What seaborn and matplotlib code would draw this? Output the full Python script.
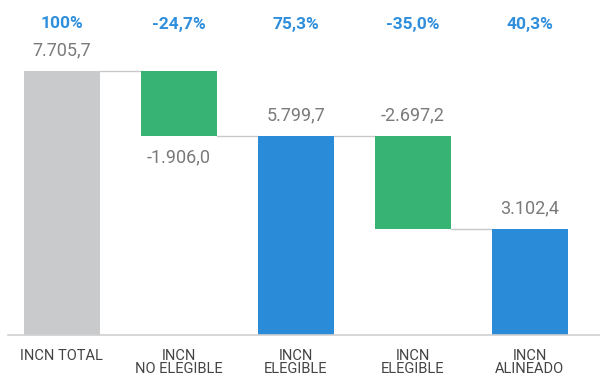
import matplotlib
matplotlib.use("Agg")
import matplotlib.pyplot as plt
import matplotlib.transforms as mtransforms
import seaborn as sns
import pandas as pd

# Waterfall steps
step_keys = ["total", "no_elegible", "elegible", "elegible_2", "alineado"]
step_labels = ["INCN TOTAL", "INCN\nNO ELEGIBLE", "INCN\nELEGIBLE", "INCN\nELEGIBLE", "INCN\nALINEADO"]
step_values = [7705.7, -1906.0, 5799.7, -2697.2, 3102.4]
step_kinds = ["total", "delta", "total", "delta", "total"]
pct_labels = ["100%", "-24,7%", "75,3%", "-35,0%", "40,3%"]
value_side = ["above", "below", "above", "above", "above"]

colors = {"total0": "#c9cacc", "delta": "#37b473", "total": "#2a8bd8"}
bar_colors = [colors["total0"], colors["delta"], colors["total"], colors["delta"], colors["total"]]

# Compute bar bottoms / heights for the waterfall
bottoms, heights, levels = [], [], []
level = 0.0
for v, k in zip(step_values, step_kinds):
    if k == "total":
        bottoms.append(0.0)
        heights.append(v)
        level = v
    else:
        new_level = level + v
        bottoms.append(min(level, new_level))
        heights.append(abs(v))
        level = new_level
    levels.append(level)

df = pd.DataFrame({"step": step_keys, "height": heights})

sns.set_theme(style="white")
plt.rcParams["font.family"] = ["Roboto", "DejaVu Sans"]

fig = plt.figure(figsize=(6.0, 3.77), dpi=100)
ax = fig.add_axes([8 / 600, 42 / 377, 592 / 600, 335 / 377])

bar_w = 0.65
sns.barplot(data=df, x="step", y="height", order=step_keys, bottom=bottoms,
            width=bar_w, errorbar=None, color=bar_colors[0], ax=ax,
            linewidth=0, zorder=2)
for patch, c in zip(ax.patches, bar_colors):
    patch.set_facecolor(c)
    patch.set_edgecolor("none")

ax.set_xlim(-0.46, 4.6)
ax.set_ylim(0, 9780)

# Connector lines between consecutive bars
for i in range(len(step_values) - 1):
    y = levels[i]
    ax.plot([i + bar_w / 2, i + 1 - bar_w / 2], [y, y], color="#c8c8c8", lw=1.0, zorder=1)

# Value labels
def fmt_es(v):
    s = f"{v:,.1f}"
    return s.replace(",", "X").replace(".", ",").replace("X", ".")

for i, (v, b, h, side) in enumerate(zip(step_values, bottoms, heights, value_side)):
    if side == "above":
        y, off = b + h, 15
    else:
        y, off = b, -15
    ax.annotate(fmt_es(v), (i, y), xytext=(0, off), textcoords="offset points",
                ha="center", va="center", fontsize=13, color="#7a7a7a")

# Percentage labels along the top
trans = mtransforms.blended_transform_factory(ax.transData, ax.transAxes)
for i, p in enumerate(pct_labels):
    ax.text(i, 1 - 24 / 335, p, transform=trans, ha="center", va="center",
            fontsize=12.5, fontweight="bold", color="#2f8fdc")

# Axes styling
for s in ["left", "right", "top"]:
    ax.spines[s].set_visible(False)
ax.spines["bottom"].set_color("#d0d0d0")
ax.spines["bottom"].set_linewidth(1.2)
ax.set_yticks([])
ax.set_ylabel("")
ax.set_xlabel("")
ax.set_xticks(range(len(step_labels)))
ax.set_xticklabels(step_labels, fontsize=10.5, color="#444444", linespacing=0.95,
                   family=["Liberation Sans Narrow", "Roboto", "DejaVu Sans"])
ax.tick_params(axis="x", length=0, pad=10)
ax.grid(False)

fig.savefig("out.png", dpi=100)
